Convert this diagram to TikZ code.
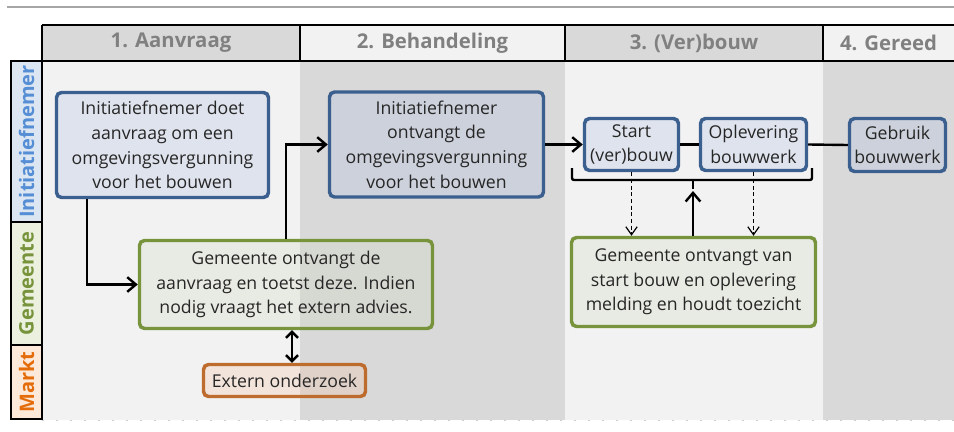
\documentclass[tikz,border=0pt]{standalone}
\usepackage{fontspec}
\setmainfont{Open Sans}
\usetikzlibrary{arrows.meta}

\definecolor{kopgrijs}{HTML}{D9D9D9}
\definecolor{koplicht}{HTML}{F2F2F2}
\definecolor{koptekst}{HTML}{808080}
\definecolor{initvul}{HTML}{DCE6F2}
\definecolor{inittekst}{HTML}{558ED5}
\definecolor{gemvul}{HTML}{EBF1DE}
\definecolor{gemtekst}{HTML}{77933C}
\definecolor{marktvul}{HTML}{FDE9D9}
\definecolor{markttekst}{HTML}{E46C0A}
\definecolor{blauwrand}{HTML}{3B5F8F}
\definecolor{blauwvul}{HTML}{AABAE2}
\definecolor{groenrand}{HTML}{77933C}
\definecolor{groenvul}{HTML}{CEDABA}
\definecolor{oranjerand}{HTML}{BE6C2E}
\definecolor{oranjevul}{HTML}{F6BE9A}

\tikzset{
  blok/.style={rectangle, rounded corners=3.75pt, line width=2.6pt, inner sep=0pt,
    align=center, text=black!85, font=\fontsize{13.25}{18.5}\selectfont, fill opacity=0.25, text opacity=1},
  initblok/.style={blok, draw=blauwrand, fill=blauwvul},
  gemblok/.style={blok, draw=groenrand, fill=groenvul},
  marktblok/.style={blok, draw=oranjerand, fill=oranjevul},
  kop/.style={font=\fontsize{15.25}{18}\selectfont\bfseries, text=koptekst},
  baan/.style={font=\fontsize{15}{18}\selectfont\bfseries, rotate=90},
  pijl/.style={line width=1.8pt, -{Straight Barb[length=6.5pt,width=11pt]}},
  lijn/.style={line width=1.8pt},
  melding/.style={line width=0.9pt, dash pattern=on 3pt off 2pt, -{Straight Barb[length=6pt,width=8.5pt]}},
}

\begin{document}
\begin{tikzpicture}[x=0.75pt, y=-0.75pt]
  \useasboundingbox (0,0) rectangle (954,432);

  % Draw the grey rule at the top
  \draw[line width=1.5pt, color=black!35] (7,7) -- (954,7);

  % Draw the column backgrounds
  \fill[kopgrijs] (42,25) rectangle (300,61);
  \fill[koplicht] (300,25) rectangle (565,61);
  \fill[kopgrijs] (565,25) rectangle (823,61);
  \fill[koplicht] (823,25) rectangle (954,61);
  \fill[koplicht] (42,61) rectangle (300,420);
  \fill[kopgrijs] (300,61) rectangle (565,420);
  \fill[koplicht] (565,61) rectangle (823,420);
  \fill[kopgrijs] (823,61) rectangle (954,420);
  \draw[black!20, line width=0.75pt, dash pattern=on 1.5pt off 9pt] (42,420) -- (954,420);

  % Draw the phases
  \node[kop] (fase1) at (171,43) {1. Aanvraag};
  \node[kop] (fase2) at (432.5,43) {2. Behandeling};
  \node[kop] (fase3) at (694,43) {3. (Ver)bouw};
  \node[kop] (fase4) at (888.5,43) {4. Gereed};

  % Draw the swimlanes
  \fill[initvul] (11,61) rectangle (42,222);
  \fill[gemvul] (11,222) rectangle (42,345);
  \fill[marktvul] (11,345) rectangle (42,419);
  \node[baan, text=inittekst] (baaninit) at (26.5,141.5) {Initiatiefnemer};
  \node[baan, text=gemtekst] (baangem) at (26.5,283.5) {Gemeente};
  \node[baan, text=markttekst] (baanmarkt) at (26.5,382) {Markt};

  % Draw the frame lines
  \draw[lijn] (42,25) -- (954,25);
  \draw[lijn] (11,61) -- (954,61);
  \draw[lijn] (42,25) -- (42,61);
  \draw[lijn] (300,25) -- (300,61);
  \draw[lijn] (565,25) -- (565,61);
  \draw[lijn] (823,25) -- (823,61);
  \draw[lijn] (11,61) rectangle (42,419);
  \draw[lijn] (11,222) -- (42,222);
  \draw[lijn] (11,345) -- (42,345);

  % Draw the steps
  \node[initblok, minimum width=159pt, minimum height=78.75pt] (aanvraag) at (162.5,145)
    {Initiatiefnemer doet\\aanvraag om een\\omgevingsvergunning\\voor het bouwen};
  \node[initblok, minimum width=160.5pt, minimum height=78.75pt] (ontvangst) at (436.5,144.5)
    {Initiatiefnemer\\ontvangt de\\omgevingsvergunning\\voor het bouwen};
  \node[gemblok, minimum width=219.75pt, minimum height=66pt] (toets) at (286,284.5)
    {Gemeente ontvangt de\\aanvraag en toetst deze. Indien\\nodig vraagt het extern advies.};
  \node[marktblok, minimum width=121.5pt, minimum height=24pt] (extern) at (284.5,380.5)
    {Extern onderzoek};
  \node[initblok, minimum width=70.5pt, minimum height=39pt] (start) at (631.5,144.5)
    {Start\\(ver)bouw};
  \node[initblok, minimum width=79.5pt, minimum height=39pt] (oplevering) at (753.5,144.5)
    {Oplevering\\bouwwerk};
  \node[initblok, minimum width=72pt, minimum height=39.75pt] (gebruik) at (897.5,145)
    {Gebruik\\bouwwerk};
  \node[gemblok, minimum width=183pt, minimum height=66.75pt] (toezicht) at (693.5,282)
    {Gemeente ontvangt van\\start bouw en oplevering\\melding en houdt toezicht};

  % Draw the connections
  \draw[pijl] ([xshift=24pt]aanvraag.south west) |- (toets.west);
  \draw[pijl] (toets.north) |- (ontvangst.west);
  \draw[pijl] (ontvangst.east) -- (start.west);
  \draw[lijn] (start.east) -- (oplevering.west);
  \draw[lijn] (oplevering.east) -- (gebruik.west);
  \draw[line width=1.8pt, {Straight Barb[length=4.5pt,width=9pt]}-{Straight Barb[length=4.5pt,width=9pt]}]
    ([xshift=4.5pt]toets.south) -- ([xshift=4.5pt]toets.south |- extern.north);

  % Draw the bracket under the build steps
  \coordinate (klamp) at (693,191);
  \draw[lijn, rounded corners=1.5pt] (572,168) -- (572,180) -- (812,180) -- (812,168);
  \draw[lijn] (693,180) -- (693,189);
  \draw[melding] (start.south) -- (start.south |- toezicht.north);
  \draw[melding] (oplevering.south) -- (oplevering.south |- toezicht.north);
  \draw[pijl] (toezicht.north -| klamp) -- (klamp);
\end{tikzpicture}
\end{document}
